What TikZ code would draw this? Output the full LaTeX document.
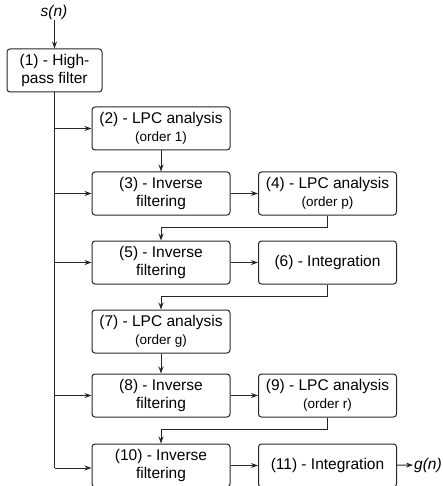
\documentclass[tikz,border=0pt]{standalone}
\usepackage{fontspec}
\setmainfont{Liberation Sans}
\usetikzlibrary{arrows.meta}
\newcommand{\ordernote}[1]{{\fontsize{13.5}{15}\selectfont #1}}
\begin{document}
\begin{tikzpicture}[
    x=1pt, y=-1pt,
    block/.style={draw=black!85, rounded corners=3pt, line width=1pt, minimum width=138pt, minimum height=43pt, align=center, inner sep=1pt, font=\fontsize{15.5}{17.5}\selectfont},
    signal/.style={font=\fontsize{15.5}{17}\selectfont\itshape, inner sep=1pt},
    arrow/.style={-{Stealth[length=7pt,width=5pt]}, line width=1pt, draw=black!85},
    wire/.style={line width=1pt, draw=black!85}
]
\useasboundingbox (0,0) rectangle (443,486);

\node[signal] (sn) at (54,12) {s(n)};
\node[block, minimum width=95pt] (B1) at (54.5,70.5) {(1) - High-\\pass filter};

\node[block] (B2) at (161,128.5) {(2) - LPC analysis\\\ordernote{(order 1)}};
\node[block] (B3) at (161,193.5) {(3) - Inverse\\filtering};
\node[block] (B4) at (327.5,193.5) {(4) - LPC analysis\\\ordernote{(order p)}};
\node[block] (B5) at (161,262.5) {(5) - Inverse\\filtering};
\node[block] (B6) at (327.5,262.5) {(6) - Integration};
\node[block] (B7) at (161,331.5) {(7) - LPC analysis\\\ordernote{(order g)}};
\node[block] (B8) at (161,395.5) {(8) - Inverse\\filtering};
\node[block] (B9) at (327.5,395.5) {(9) - LPC analysis\\\ordernote{(order r)}};
\node[block] (B10) at (161,465.5) {(10) - Inverse\\filtering};
\node[block] (B11) at (327.5,465.5) {(11) - Integration};
\node[signal, anchor=west] (gn) at (413,465) {g(n)};

\coordinate (T) at (54.5,468);

% input and trunk
\draw[arrow] (sn.south -| B1.north) -- (B1.north);
\draw[wire] (B1.south) -- (T);
\draw[arrow] (B1.south |- B2.west) -- (B2.west);
\draw[arrow] (B1.south |- B3.west) -- (B3.west);
\draw[arrow] (B1.south |- B5.west) -- (B5.west);
\draw[arrow] (B1.south |- B8.west) -- (B8.west);
\draw[arrow] (T) -- (T -| B10.west);

% chain
\draw[arrow] (B2) -- (B3);
\draw[arrow] (B3) -- (B4);
\draw[arrow] (B4.south) -- ++(0,12) -| (B5.north);
\draw[arrow] (B5) -- (B6);
\draw[arrow] (B6.south) -- ++(0,12) -| (B7.north);
\draw[arrow] (B7) -- (B8);
\draw[arrow] (B8) -- (B9);
\draw[arrow] (B9.south) -- ++(0,12) -| (B10.north);
\draw[arrow] (B10) -- (B11);
\draw[arrow] (B11) -- (gn);

\end{tikzpicture}
\end{document}
